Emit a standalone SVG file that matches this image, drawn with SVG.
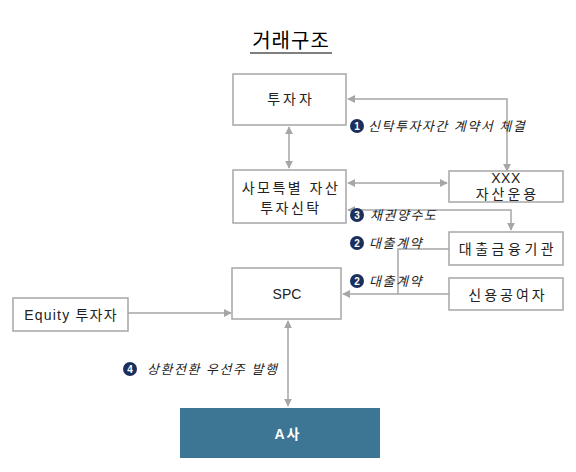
<svg xmlns="http://www.w3.org/2000/svg" width="576" height="472" viewBox="0 0 576 472">
<style>
.box{fill:#fff;stroke:#a6a6a6;stroke-width:1.5}
.t{font-family:"Liberation Sans","Noto Sans CJK KR",sans-serif;font-size:14px;fill:#222;text-anchor:middle}
.lbl{font-family:"Liberation Sans","Noto Sans CJK KR",sans-serif;font-size:13px;font-style:italic;fill:#222;letter-spacing:1.5px}
.ln{fill:none;stroke:#a6a6a6;stroke-width:1.5}
.num{fill:#1b2f5c}
.nt{font-family:"Liberation Sans",sans-serif;font-size:10px;font-weight:bold;fill:#fff;text-anchor:middle}
</style>
<defs>
<marker id="ah" viewBox="0 0 10 10" refX="9" refY="5" markerWidth="8" markerHeight="8" markerUnits="userSpaceOnUse" orient="auto-start-reverse">
<path d="M0,0 L10,5 L0,10 z" fill="#a6a6a6"/>
</marker>
</defs>
<rect width="576" height="472" fill="#fff"/>
<g id="title">
<text x="291" y="48" font-family="'Noto Sans CJK KR',sans-serif" font-size="20" fill="#000" text-anchor="middle" letter-spacing="1">거래구조</text>
<line x1="250" y1="53" x2="332" y2="53" stroke="#000" stroke-width="1.2"/>
</g>
<g id="connectors">
<line class="ln" x1="289" y1="127" x2="289" y2="168" marker-start="url(#ah)" marker-end="url(#ah)"/>
<polyline class="ln" points="348,99 507,99 507,171" marker-start="url(#ah)" marker-end="url(#ah)"/>
<line class="ln" x1="348" y1="183" x2="447" y2="183" marker-start="url(#ah)" marker-end="url(#ah)"/>
<polyline class="ln" points="348,210 511,210 511,230" marker-start="url(#ah)" marker-end="url(#ah)"/>
<polyline class="ln" points="449,249 398,249 398,294"/>
<line class="ln" x1="449" y1="294" x2="343" y2="294" marker-end="url(#ah)"/>
<line class="ln" x1="128" y1="313" x2="231" y2="313" marker-end="url(#ah)"/>
<line class="ln" x1="288" y1="321" x2="288" y2="406" marker-start="url(#ah)" marker-end="url(#ah)"/>
</g>
<g id="n-investor">
<rect class="box" x="233" y="74" width="113" height="51"/>
<text class="t" x="291" y="104" letter-spacing="3">투자자</text>
</g>
<g id="n-trust">
<rect class="box" x="233" y="170" width="113" height="53"/>
<text class="t" x="291" y="193" font-size="15" letter-spacing="2.5">사모특별 자산</text>
<text class="t" x="291" y="213" font-size="15" letter-spacing="2.5">투자신탁</text>
</g>
<g id="n-xxx">
<rect class="box" x="449" y="171" width="114" height="31"/>
<text class="t" x="506" y="183" font-size="12.5" letter-spacing="0.5">XXX</text>
<text class="t" x="507.5" y="199" font-size="12.5" letter-spacing="3">자산운용</text>
</g>
<g id="n-lender">
<rect class="box" x="449" y="232" width="114" height="33"/>
<text class="t" x="508" y="254" letter-spacing="3.5">대출금융기관</text>
</g>
<g id="n-credit">
<rect class="box" x="449" y="278" width="114" height="32"/>
<text class="t" x="508" y="300" letter-spacing="3">신용공여자</text>
</g>
<g id="n-spc">
<rect class="box" x="232" y="268" width="109" height="51"/>
<text class="t" x="287" y="299" font-size="15">SPC</text>
</g>
<g id="n-equity">
<rect class="box" x="13" y="298" width="115" height="33"/>
<text class="t" x="71" y="320" letter-spacing="1.2">Equity 투자자</text>
</g>
<g id="n-a">
<rect x="180" y="408" width="200" height="50" fill="#3d7594"/>
<text class="t" x="288" y="439" font-size="17" font-weight="bold" letter-spacing="2" style="fill:#fff">A사</text>
</g>
<g id="labels">
<circle class="num" cx="357" cy="126" r="7"/><text class="nt" x="357" y="129.5">1</text>
<text class="lbl" x="368" y="131">신탁투자자간 계약서 체결</text>
<circle class="num" cx="357" cy="215" r="7"/><text class="nt" x="357" y="218.5">3</text>
<text class="lbl" x="370" y="220">채권양수도</text>
<circle class="num" cx="357" cy="243" r="7"/><text class="nt" x="357" y="246.5">2</text>
<text class="lbl" x="369" y="248">대출계약</text>
<circle class="num" cx="357" cy="281" r="7"/><text class="nt" x="357" y="284.5">2</text>
<text class="lbl" x="369" y="286">대출계약</text>
<circle class="num" cx="130" cy="369" r="7"/><text class="nt" x="130" y="372.5">4</text>
<text class="lbl" x="147" y="374">상환전환 우선주 발행</text>
</g>
</svg>
